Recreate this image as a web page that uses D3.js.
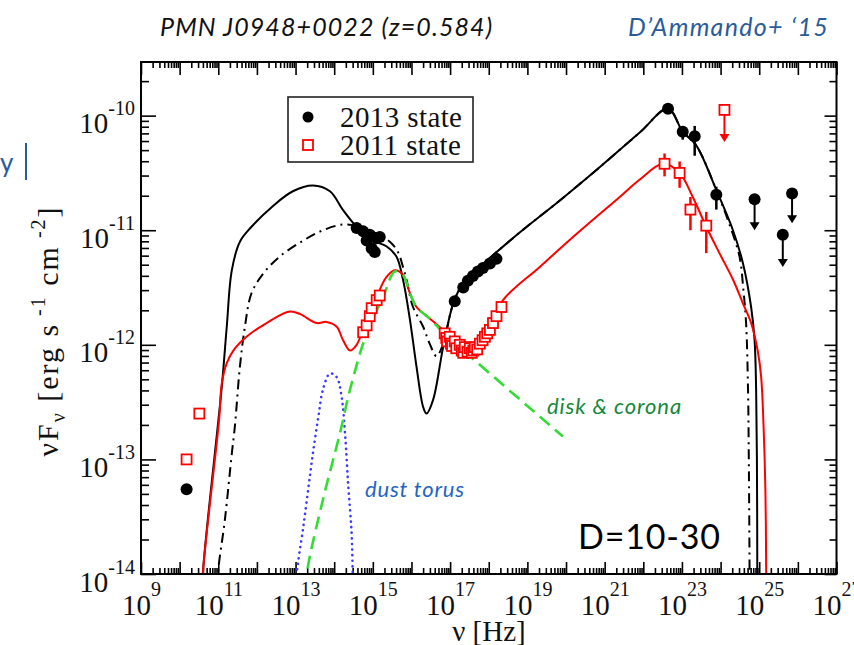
<!DOCTYPE html>
<html><head><meta charset="utf-8">
<script src="https://cdn.jsdelivr.net/npm/d3@7"></script>
<style>body{margin:0;background:#fff}svg{display:block}</style>
</head><body>
<script>
// All values are [log10 nu (Hz), log10 nuFnu (erg s^-1 cm^-2)]
const model2013 = [[10.58,-14.3],[10.60,-14.0],[11.09,-12.37],[11.22,-11.84],[11.35,-11.35],[11.56,-11.10],[11.86,-10.97],[12.41,-10.79],[12.93,-10.66],[13.45,-10.61],[13.89,-10.66],[14.22,-10.82],[14.58,-10.97],[15.00,-11.09],[15.35,-11.14],[15.61,-11.23],[15.78,-11.43],[15.96,-11.78],[16.13,-12.19],[16.30,-12.54],[16.39,-12.60],[16.56,-12.48],[16.82,-12.02],[17.08,-11.64],[17.34,-11.46],[17.77,-11.32],[18.80,-11.02],[19.84,-10.74],[20.87,-10.45],[21.90,-10.15],[22.64,-9.94],[23.02,-10.14],[23.37,-10.26],[23.89,-10.65],[24.32,-11.00],[24.58,-11.29],[24.79,-11.67],[24.88,-11.96],[24.92,-12.39],[24.94,-12.98],[24.95,-14.0],[24.95,-14.3]];
const model2013b = [[10.97,-14.3],[10.99,-14.0],[11.17,-13.53],[11.35,-12.95],[11.43,-12.71],[11.56,-12.19],[11.69,-11.84],[11.86,-11.55],[12.16,-11.38],[12.59,-11.23],[13.20,-11.09],[13.71,-11.00],[14.23,-10.95],[14.66,-10.97],[15.10,-11.03],[15.44,-11.10],[15.65,-11.19],[15.78,-11.32],[15.87,-11.43],[16.04,-11.67],[16.30,-11.84],[16.47,-11.99],[16.65,-12.10],[16.81,-12.00],[17.08,-11.64],[17.34,-11.46],[17.77,-11.32],[18.80,-11.02],[19.84,-10.74],[20.87,-10.45],[21.90,-10.15],[22.64,-9.94],[23.02,-10.14],[23.37,-10.26],[23.89,-10.65],[24.21,-10.93],[24.49,-11.23],[24.59,-11.52],[24.66,-11.81],[24.71,-12.39],[24.73,-12.98],[24.75,-14.0],[24.75,-14.3]];
const model2011 = [[10.58,-14.3],[10.60,-14.0],[11.02,-12.66],[11.09,-12.34],[11.22,-12.16],[11.39,-12.05],[11.73,-11.93],[12.25,-11.81],[12.85,-11.71],[13.11,-11.73],[13.54,-11.81],[13.80,-11.80],[14.06,-11.84],[14.23,-11.96],[14.41,-12.05],[14.58,-12.00],[14.84,-11.78],[15.10,-11.58],[15.35,-11.41],[15.57,-11.35],[15.78,-11.39],[15.96,-11.55],[16.13,-11.67],[16.47,-11.77],[16.82,-11.87],[17.20,-11.98],[17.51,-12.03],[17.77,-11.98],[18.03,-11.85],[18.37,-11.61],[19.32,-11.32],[20.35,-11.01],[21.39,-10.71],[21.90,-10.56],[22.51,-10.42],[22.94,-10.50],[23.28,-10.71],[23.63,-10.97],[23.97,-11.20],[24.32,-11.43],[24.58,-11.64],[24.79,-11.81],[24.96,-12.05],[25.05,-12.28],[25.11,-12.69],[25.16,-13.27],[25.18,-14.0],[25.18,-14.3]];
const diskCorona = [[13.24,-14.3],[13.29,-14.0],[13.71,-13.35],[14.15,-12.77],[14.41,-12.39],[14.84,-11.90],[15.27,-11.58],[15.57,-11.36],[15.78,-11.39],[15.96,-11.55],[16.13,-11.67],[16.47,-11.77],[16.82,-11.89],[19.92,-12.80]];
const dustTorus = [[12.99,-14.3],[13.03,-14.0],[13.20,-13.59],[13.37,-13.15],[13.46,-12.92],[13.59,-12.63],[13.71,-12.39],[13.89,-12.25],[14.06,-12.28],[14.19,-12.45],[14.28,-12.77],[14.36,-13.21],[14.45,-13.64],[14.48,-14.0],[14.50,-14.3]];
// data points: [log nu, log nuFnu, err low, err high]
const data2013 = [[10.18,-13.26],[14.58,-10.98],[14.75,-11.01],[14.84,-11.09],[14.92,-11.04],[14.97,-11.16],[15.05,-11.19],[15.10,-11.07],[15.18,-11.06],[17.12,-11.62],[17.34,-11.50],[17.46,-11.44],[17.59,-11.40],[17.72,-11.36],[17.85,-11.33],[18.03,-11.29],[18.20,-11.25],[22.64,-9.94],[23.02,-10.14,-10.21,-10.10],[23.33,-10.18,-10.35,-10.09],[23.89,-10.69,-10.82,-10.62]];
const data2011 = [[10.18,-13.00],[10.51,-12.60],[14.75,-11.89],[14.84,-11.83],[14.92,-11.75],[14.97,-11.68],[15.10,-11.61],[15.18,-11.57],[16.86,-11.90],[16.90,-11.94],[16.92,-11.97],[16.99,-11.93],[17.02,-11.99],[17.05,-12.01],[17.12,-11.97],[17.16,-12.03],[17.25,-12.00],[17.30,-12.05],[17.34,-12.07],[17.38,-12.02],[17.45,-12.06],[17.51,-12.03],[17.56,-12.07],[17.60,-12.05],[17.64,-12.02],[17.70,-12.04],[17.77,-11.99],[17.84,-11.96],[17.90,-11.93],[17.96,-11.90],[18.03,-11.87],[18.11,-11.81],[18.20,-11.75],[18.33,-11.67],[22.55,-10.42,-10.53,-10.33],[22.94,-10.50,-10.63,-10.40],[23.22,-10.82,-11.00,-10.71],[23.63,-10.96,-11.20,-10.84]];
// upper limits: [log nu, log nuFnu, arrow tip]
const ul2013 = [[24.88,-10.73,-11.00],[25.61,-11.04,-11.32],[25.85,-10.68,-10.94]];
const ul2011 = [[24.10,-9.95,-10.23]];
const xTickExps = d3.range(9, 28);
const xLabelExps = [9,11,13,15,17,19,21,23,25,27];
const yTickExps = [-14,-13,-12,-11,-10];
const legendLabels = ["2013 state","2011 state"];

const W=854,H=645;
const svg=d3.select("body").append("svg").attr("width",W).attr("height",H);
const L=141,R=836.5,T=62,B=574;
const x=d3.scaleLog().domain([1e9,1e27]).range([L,R]);
const y=d3.scaleLog().domain([1e-14,Math.pow(10,-9.532)]).range([B,T]);
const P=v=>Math.pow(10,v);

// titles
svg.append("text").attr("x",160).attr("y",36).attr("font-family","Lato").attr("font-style","italic").attr("font-size",25).attr("letter-spacing",1.1).attr("fill","#111").text("PMN J0948+0022 (z=0.584)");
svg.append("text").attr("x",829).attr("y",36).attr("text-anchor","end").attr("font-family","Lato").attr("font-style","italic").attr("font-size",25).attr("letter-spacing",1.3).attr("fill","#2b5c9a").text("D\u2019Ammando+ \u201815");
svg.append("text").attr("x",0).attr("y",172).attr("font-family","Lato").attr("font-size",26).attr("fill","#2b5c9a").text("y");
svg.append("line").attr("x1",26).attr("x2",26).attr("y1",143).attr("y2",180).attr("stroke","#2b5c9a").attr("stroke-width",2);

// ticks
const xMinor=[];xTickExps.slice(0,-1).forEach(e=>{for(let k=2;k<10;k++)xMinor.push(k*P(e));});
const yMinor=[];for(let e=-14;e<=-10;e++){for(let k=2;k<10;k++){const v=k*P(e);if(v<=y.domain()[1])yMinor.push(v);}}
const xMaj=xTickExps.map(P), yMaj=yTickExps.map(P);
function ax(gen,tr){const g=svg.append("g").attr("transform",tr).call(gen);g.select(".domain").remove();g.selectAll("line").attr("stroke","#000").attr("stroke-width",1.6);return g;}
ax(d3.axisBottom(x).tickValues(xMinor).tickSize(-6).tickFormat(""),`translate(0,${B})`);
ax(d3.axisTop(x).tickValues(xMinor).tickSize(-6).tickFormat(""),`translate(0,${T})`);
ax(d3.axisTop(x).tickValues(xMaj).tickSize(-13).tickFormat(""),`translate(0,${T})`);
ax(d3.axisLeft(y).tickValues(yMinor).tickSize(-8).tickFormat(""),`translate(${L},0)`);
ax(d3.axisRight(y).tickValues(yMinor).tickSize(-7).tickFormat(""),`translate(${R},0)`);
ax(d3.axisRight(y).tickValues(yMaj).tickSize(-12).tickFormat(""),`translate(${R},0)`);
const gxb=ax(d3.axisBottom(x).tickValues(xMaj).tickSize(-12).tickFormat(d=>{const e=Math.round(Math.log10(d));return xLabelExps.includes(e)?String(e):"";}),`translate(0,${B})`);
gxb.attr("font-family","Liberation Serif").attr("font-size",29);
gxb.selectAll("text").each(function(){const t=d3.select(this);const e=t.text();t.text(null);if(!e)return;
  t.attr("y",41).attr("dy",null).attr("fill","#111").attr("text-anchor","middle");
  t.append("tspan").text("10");t.append("tspan").attr("font-size",20).attr("dy",-19).text(e);});
const gyl=ax(d3.axisLeft(y).tickValues(yMaj).tickSize(-15).tickFormat(d=>String(Math.round(Math.log10(d)))),`translate(${L},0)`);
gyl.attr("font-family","Liberation Serif").attr("font-size",29);
gyl.selectAll("text").each(function(){const t=d3.select(this);const e=t.text();t.text(null);
  t.attr("x",-6).attr("dy",null).attr("y",17).attr("fill","#111").attr("text-anchor","end");
  t.append("tspan").text("10");t.append("tspan").attr("font-size",20).attr("dy",-18).text(e);});

// axis titles
const yt=svg.append("text").attr("transform","translate(58,331) rotate(-90)").attr("text-anchor","middle").attr("font-family","Liberation Serif").attr("font-size",30).attr("letter-spacing",2).attr("fill","#111");
yt.append("tspan").text("\u03bdF");yt.append("tspan").attr("font-size",20).attr("dy",7).text("\u03bd");
yt.append("tspan").attr("dy",-7).text(" [erg s");yt.append("tspan").attr("font-size",20).attr("dy",-13).text(" -1");
yt.append("tspan").attr("dy",13).text(" cm");yt.append("tspan").attr("font-size",20).attr("dy",-13).text(" -2");
yt.append("tspan").attr("dy",13).text("]");
svg.append("text").attr("x",489).attr("y",641).attr("text-anchor","middle").attr("font-family","Liberation Serif").attr("font-size",29).attr("fill","#111").text("\u03bd [Hz]");

// clip
svg.append("clipPath").attr("id","clip").append("rect").attr("x",L).attr("y",T).attr("width",R-L).attr("height",B-T);
const plot=svg.append("g").attr("clip-path","url(#clip)");
const line=d3.line().x(d=>x(P(d[0]))).y(d=>y(P(d[1]))).curve(d3.curveCatmullRom.alpha(0.5));
plot.append("path").attr("d",line(dustTorus)).attr("fill","none").attr("stroke","#3a3aff").attr("stroke-width",2.6).attr("stroke-linecap","round").attr("stroke-dasharray","0.1,5.5");
plot.append("path").attr("d",line(model2013b)).attr("fill","none").attr("stroke","#000").attr("stroke-width",2).attr("stroke-dasharray","10,5,2,5");
plot.append("path").attr("d",line(model2013)).attr("fill","none").attr("stroke","#000").attr("stroke-width",2);
plot.append("path").attr("d",line(model2011)).attr("fill","none").attr("stroke","#ff0000").attr("stroke-width",2);
plot.append("path").attr("d",line(diskCorona)).attr("fill","none").attr("stroke","#33dd33").attr("stroke-width",2.6).attr("stroke-dasharray","13,7");

// error bars
const pts=svg.append("g");
data2013.filter(d=>d.length>2).forEach(d=>pts.append("line").attr("x1",x(P(d[0]))).attr("x2",x(P(d[0]))).attr("y1",y(P(d[2]))).attr("y2",y(P(d[3]))).attr("stroke","#000").attr("stroke-width",2.5));
data2011.filter(d=>d.length>2).forEach(d=>pts.append("line").attr("x1",x(P(d[0]))).attr("x2",x(P(d[0]))).attr("y1",y(P(d[2]))).attr("y2",y(P(d[3]))).attr("stroke","#ff0000").attr("stroke-width",2.5));
// upper limits
function ul(arr,col){arr.forEach(d=>{const px=x(P(d[0])),py=y(P(d[1])),pt=y(P(d[2]));
  pts.append("line").attr("x1",px).attr("x2",px).attr("y1",py).attr("y2",pt-6).attr("stroke",col).attr("stroke-width",2);
  pts.append("path").attr("d",`M${px-5},${pt-8}L${px+5},${pt-8}L${px},${pt}Z`).attr("fill",col);});}
ul(ul2013,"#000");ul(ul2011,"#ff0000");
pts.selectAll("circle.d13").data(data2013.concat(ul2013)).join("circle").attr("cx",d=>x(P(d[0]))).attr("cy",d=>y(P(d[1]))).attr("r",6).attr("fill","#000");
pts.selectAll("rect.d11").data(data2011).join("rect").attr("x",d=>x(P(d[0]))-5).attr("y",d=>y(P(d[1]))-5).attr("width",10).attr("height",10).attr("fill","#fff").attr("stroke","#ff0000").attr("stroke-width",1.8);
pts.selectAll("rect.u11").data(ul2011).join("rect").attr("x",d=>x(P(d[0]))-5).attr("y",d=>y(P(d[1]))-5).attr("width",10).attr("height",10).attr("fill","#fff").attr("stroke","#ff0000").attr("stroke-width",1.8);

// frame
svg.append("rect").attr("x",L).attr("y",T).attr("width",R-L).attr("height",B-T).attr("fill","none").attr("stroke","#000").attr("stroke-width",2);

// legend
svg.append("rect").attr("x",288).attr("y",97).attr("width",185).attr("height",65).attr("fill","#fff").attr("stroke","#222").attr("stroke-width",1.6);
svg.append("circle").attr("cx",308).attr("cy",117).attr("r",5.5).attr("fill","#000");
svg.append("rect").attr("x",303).attr("y",140).attr("width",10).attr("height",10).attr("fill","#fff").attr("stroke","#ff0000").attr("stroke-width",1.8);
svg.append("text").attr("x",340).attr("y",127).attr("font-family","Liberation Serif").attr("font-size",29).attr("letter-spacing",0.4).attr("fill","#111").text(legendLabels[0]);
svg.append("text").attr("x",340).attr("y",155).attr("font-family","Liberation Serif").attr("font-size",29).attr("letter-spacing",0.4).attr("fill","#111").text(legendLabels[1]);

// annotations
svg.append("text").attr("x",547).attr("y",414).attr("font-family","Lato").attr("font-style","italic").attr("font-size",22).attr("letter-spacing",0.9).attr("fill","#14893a").text("disk & corona");
svg.append("text").attr("x",365).attr("y",497).attr("font-family","Lato").attr("font-style","italic").attr("font-size",22).attr("letter-spacing",0.8).attr("fill","#1f66c4").text("dust torus");
svg.append("text").attr("x",578).attr("y",549).attr("font-family","Lato").attr("font-size",34).attr("letter-spacing",0.8).attr("fill","#000").text("D=10-30");
</script>
</body></html>
